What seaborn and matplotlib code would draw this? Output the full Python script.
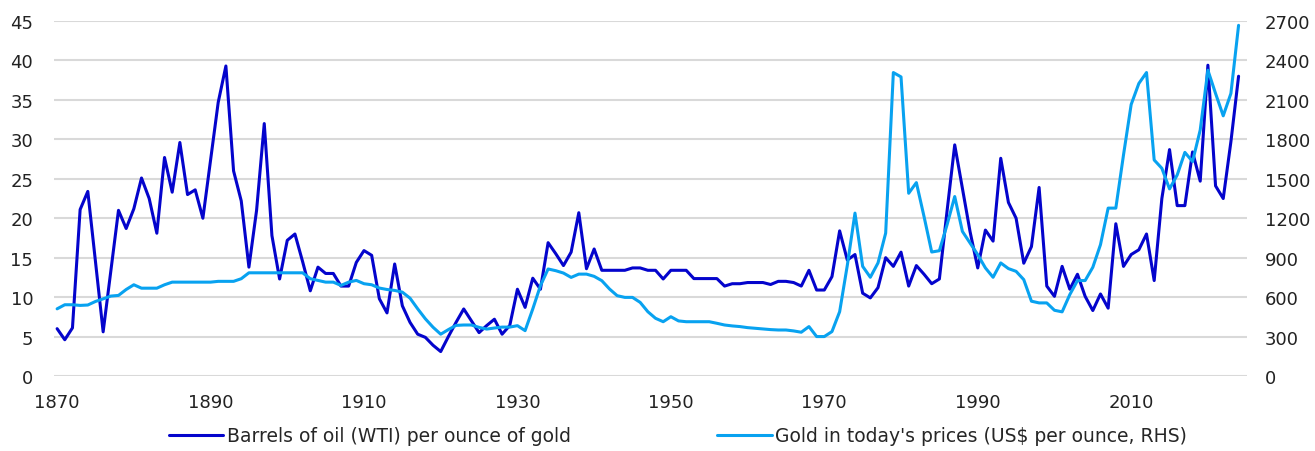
import pandas as pd
import matplotlib.pyplot as plt
import seaborn as sns

sns.set_style("white")
plt.rcParams['font.family'] = ['DejaVu Sans']

# Data
years = list(range(1870, 2025))

oil_per_oz = [
    6.0, 4.6, 6.1, 21.1, 23.4, 14.5, 5.6, 13.3, 21.0, 18.7,
    21.2, 25.1, 22.5, 18.1, 27.7, 23.3, 29.6, 23.0, 23.6, 20.0,
    27.3, 34.7, 39.3, 26.0, 22.2, 13.8, 21.0, 32.0, 17.8, 12.3,
    17.2, 18.0, 14.5, 10.8, 13.8, 13.0, 13.0, 11.4, 11.4, 14.4,
    15.9, 15.3, 9.8, 8.0, 14.2, 8.9, 6.8, 5.3, 4.9, 3.9,
    3.1, 5.0, 6.8, 8.5, 7.0, 5.5, 6.4, 7.2, 5.3, 6.4,
    11.0, 8.7, 12.4, 11.0, 16.9, 15.5, 14.0, 15.7, 20.7, 13.6,
    16.1, 13.4, 13.4, 13.4, 13.4, 13.7, 13.7, 13.4, 13.4, 12.3,
    13.4, 13.4, 13.4, 12.35, 12.35, 12.35, 12.35, 11.4, 11.7, 11.7,
    11.85, 11.85, 11.85, 11.6, 12.0, 12.0, 11.85, 11.4, 13.4, 10.9,
    10.9, 12.6, 18.4, 14.7, 15.4, 10.5, 9.9, 11.2, 15.0, 13.9,
    15.7, 11.4, 14.0, 12.9, 11.7, 12.3, 20.9, 29.3, 23.8, 18.3,
    13.7, 18.5, 17.1, 27.6, 22.0, 20.0, 14.3, 16.4, 23.9, 11.4,
    10.1, 13.9, 11.0, 12.9, 10.1, 8.3, 10.4, 8.6, 19.3, 13.9,
    15.4, 16.0, 18.0, 12.1, 22.5, 28.7, 21.6, 21.6, 28.4, 24.7,
    39.4, 24.1, 22.5, 29.7, 38.0,
]

gold_real = [
    511, 542, 542, 537, 540, 567, 587, 608, 613, 658,
    694, 668, 668, 668, 694, 714, 714, 714, 714, 714,
    714, 720, 720, 720, 740, 785, 785, 785, 785, 785,
    785, 785, 785, 740, 727, 714, 714, 689, 714, 727,
    702, 694, 669, 658, 651, 638, 592, 511, 435, 371,
    318, 353, 385, 388, 388, 370, 357, 365, 372, 372,
    383, 345, 510, 687, 814, 801, 783, 750, 775, 775,
    758, 725, 662, 611, 598, 598, 560, 489, 439, 413,
    451, 419, 413, 413, 413, 413, 401, 388, 381, 376,
    368, 363, 358, 353, 350, 350, 343, 333, 376, 300,
    300, 338, 489, 842, 1239, 834, 751, 860, 1087, 2308,
    2275, 1390, 1471, 1213, 943, 953, 1150, 1365, 1100, 1011,
    923, 822, 751, 860, 817, 796, 733, 569, 556, 556,
    500, 488, 619, 726, 726, 827, 999, 1277, 1277, 1681,
    2065, 2225, 2308, 1643, 1580, 1423, 1529, 1701, 1631, 1871,
    2326, 2149, 1979, 2149, 2667,
]

left_ticks = [0, 5, 10, 15, 20, 25, 30, 35, 40, 45]
right_ticks = [0, 300, 600, 900, 1200, 1500, 1800, 2100, 2400, 2700]
x_ticks = [1870, 1890, 1910, 1930, 1950, 1970, 1990, 2010]

oil_label = 'Barrels of oil (WTI) per ounce of gold'
gold_label = "Gold in today's prices (US$ per ounce, RHS)"

df = pd.DataFrame({'Year': years, 'Oil': oil_per_oz, 'Gold': gold_real})

dark_blue = '#0404CC'
light_blue = '#08A2F0'

fig = plt.figure(figsize=(13.15, 4.52), dpi=100)
ax = fig.add_axes([0.0411, 0.1659, 0.9072, 0.7854])
ax2 = ax.twinx()

# gold (RHS) is drawn over the oil line, as in the original
sns.lineplot(data=df, x='Year', y='Oil', ax=ax, color=dark_blue, linewidth=2.2,
             label=oil_label, legend=False)
sns.lineplot(data=df, x='Year', y='Gold', ax=ax2, color=light_blue, linewidth=2.2,
             label=gold_label, legend=False)

ax.set_xlim(1869.6, 2025.1)
ax.set_ylim(0, 45)
ax2.set_ylim(0, 2700)
ax.set_xticks(x_ticks)
ax.set_yticks(left_ticks)
ax2.set_yticks(right_ticks)

ax2.grid(False)
ax.grid(axis='y', color='#D9D9D9', linewidth=1.5)
ax.set_axisbelow(True)

for a in (ax, ax2):
    for s in a.spines.values():
        s.set_visible(False)
    a.set_xlabel('')
    a.set_ylabel('')

ax.tick_params(axis='y', length=0, labelsize=13, pad=15, labelcolor='#222222')
ax.tick_params(axis='x', length=0, labelsize=13, pad=12, labelcolor='#222222')
ax2.tick_params(axis='y', length=0, labelsize=13, pad=13, labelcolor='#222222')

h1, l1 = ax.get_legend_handles_labels()
h2, l2 = ax2.get_legend_handles_labels()
fig.legend(h1 + h2, l1 + l2, loc='center', bbox_to_anchor=(0.5156, 0.034), ncol=2,
           frameon=False, fontsize=13.5, handlelength=2.9, handletextpad=0.2,
           columnspacing=7.8)

plt.savefig('out.png', dpi=100)
plt.close()
